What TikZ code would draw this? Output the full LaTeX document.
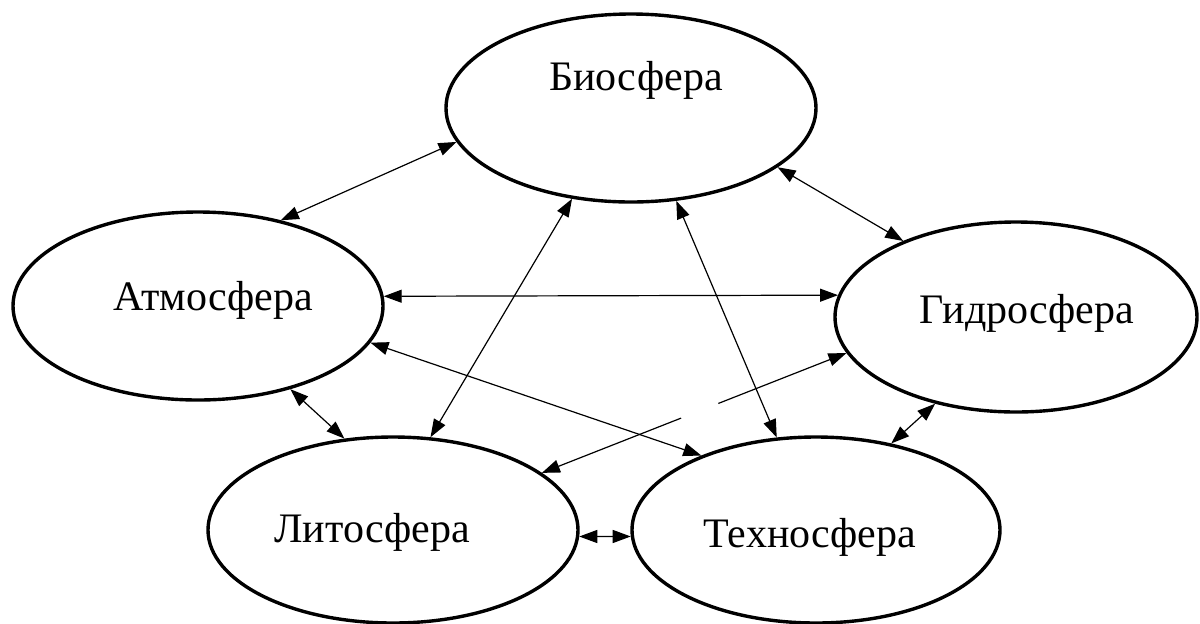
\documentclass[tikz,border=0pt]{standalone}
\usepackage{fontspec}
\setmainfont{Liberation Serif}
\usetikzlibrary{arrows.meta,shapes.geometric}
\begin{document}
\begin{tikzpicture}[x=0.5pt,y=-0.5pt,
  sphere/.style={draw, ellipse, line width=1.7pt, inner sep=0pt},
  lbl/.style={anchor=base, font=\fontsize{21}{25}\selectfont, inner sep=0pt},
  link/.style={line width=0.6pt, {Triangle[length=9pt,width=6.5pt]}-{Triangle[length=9pt,width=6.5pt]}}]
\useasboundingbox (0,0) rectangle (1200,623);
\node[sphere, minimum width=185pt, minimum height=94pt] (bio) at (631,108) {};
\node[sphere, minimum width=185pt, minimum height=94pt] (atm) at (198,306) {};
\node[sphere, minimum width=181pt, minimum height=95pt] (gid) at (1016,317) {};
\node[sphere, minimum width=185pt, minimum height=93pt] (lit) at (393,530) {};
\node[sphere, minimum width=184pt, minimum height=93pt] (tex) at (816,530) {};
\node[lbl] (biot) at (636,90) {Биосфера};
\node[lbl] (atmt) at (213,310) {Атмосфера};
\node[lbl] (gidt) at (1027,323) {Гидросфера};
\node[lbl] (litt) at (372,542) {Литосфера};
\node[lbl] (text) at (810,547) {Техносфера};
\draw[link] (atm.46) -- (bio.191);
\draw[link] (bio.338) -- (gid.146);
\draw[link] (atm.3) -- (gid.173);
\draw[link] (lit.68) -- (bio.237);
\draw[link] (bio.296) -- (tex.113);
\draw[link] (atm.348) -- (tex.147);
\draw[link, dash pattern=on 60pt off 20pt on 200pt] (gid.192) -- (lit.21);
\draw[link] (atm.318) -- (lit.118);
\draw[link] (gid.227) -- (tex.49);
\draw[link] (lit.358) -- (tex.182);
\end{tikzpicture}
\end{document}
